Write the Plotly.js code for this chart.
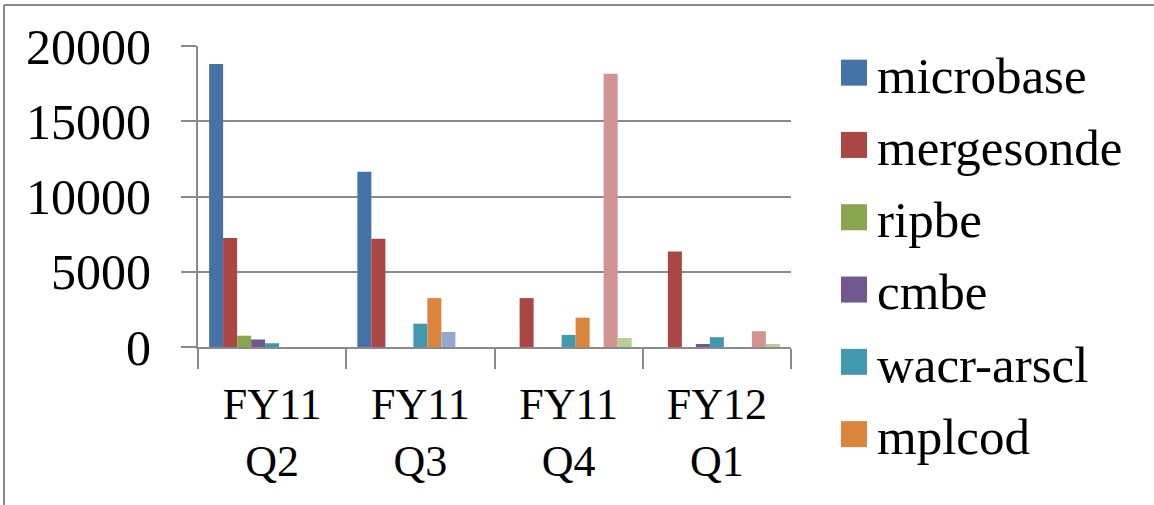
<!DOCTYPE html>
<html>
<head>
<meta charset="utf-8">
<script src="https://cdn.plot.ly/plotly-3.0.1.min.js"></script>
<style>
html,body{margin:0;padding:0;background:#fff;}
#chart{width:1154px;height:505px;}
</style>
</head>
<body>
<div id="chart"></div>
<script>
// Data
const categories = ["FY11<br>Q2", "FY11<br>Q3", "FY11<br>Q4", "FY12<br>Q1"];
const seriesNames = ["microbase", "mergesonde", "ripbe", "cmbe", "wacr-arscl", "mplcod", "Series 7", "Series 8", "Series 9"];
const microbase  = [18800, 11650, 0, 0];
const mergesonde = [7250, 7200, 3250, 6350];
const ripbe      = [750, 0, 0, 0];
const cmbe       = [500, 0, 0, 200];
const wacrArscl  = [250, 1550, 800, 650];
const mplcod     = [0, 3250, 1950, 0];
const series7    = [0, 1000, 0, 0];
const series8    = [0, 0, 18150, 1050];
const series9    = [0, 0, 600, 200];
const seriesValues = [microbase, mergesonde, ripbe, cmbe, wacrArscl, mplcod, series7, series8, series9];
const colors = ["#4572A7", "#AA4643", "#89A54E", "#71588F", "#4198AF", "#DB843D", "#93A9CF", "#D39392", "#B9CD96"];
const showInLegend = [true, true, true, true, true, true, false, false, false];

const FONT = "Liberation Serif, Times New Roman, serif";
const GRAY = "#8a8a8a";

const traces = seriesValues.map((vals, i) => ({
  type: "bar",
  name: seriesNames[i],
  x: categories,
  y: vals,
  marker: {color: colors[i], line: {width: 0}},
  showlegend: showInLegend[i],
  legendgroup: "g" + i
}));

// pixel geometry of the plot area
const W = 1154, H = 505;
const L = 198, R = 791, T = 46, B = 347;
const pw = R - L, ph = B - T;
const px = v => (v - L) / pw;
const py = v => (B - v) / ph;

const layout = {
  width: W, height: H,
  margin: {l: L, r: W - R, t: T, b: H - B, pad: 0},
  paper_bgcolor: "#ffffff",
  plot_bgcolor: "#ffffff",
  font: {family: FONT, color: "#000000", size: 48},
  barmode: "group",
  bargap: 0.15,
  bargroupgap: 0,
  showlegend: true,
  legend: {
    x: px(831), y: py(33), xanchor: "left", yanchor: "top",
    font: {family: FONT, size: 51, color: "#000"},
    tracegroupgap: 3,
    traceorder: "grouped",
    itemwidth: 36,
    maxheight: 490,
    bgcolor: "rgba(0,0,0,0)",
    borderwidth: 0
  },
  xaxis: {
    type: "category",
    tickson: "boundaries",
    ticks: "outside",
    ticklen: 20,
    tickwidth: 2,
    tickcolor: GRAY,
    showline: true,
    linecolor: GRAY,
    linewidth: 2,
    showgrid: false,
    tickfont: {family: FONT, size: 44, color: "#000"},
    ticklabelstandoff: 17
  },
  yaxis: {
    range: [0, 20000],
    tickvals: [0, 5000, 10000, 15000, 20000],
    ticktext: ["0", "5000", "10000", "15000", "20000"],
    ticks: "outside",
    ticklen: 15,
    tickwidth: 2,
    tickcolor: GRAY,
    showline: true,
    linecolor: GRAY,
    linewidth: 2,
    showgrid: true,
    gridcolor: GRAY,
    gridwidth: 2,
    zeroline: false,
    tickfont: {family: FONT, size: 50, color: "#000"},
    ticklabelstandoff: 20
  },
  shapes: [
    {type: "line", xref: "paper", yref: "paper", x0: px(4), x1: px(4), y0: py(H + 10), y1: py(5), line: {color: GRAY, width: 2}},
    {type: "line", xref: "paper", yref: "paper", x0: px(4), x1: px(W + 10), y0: py(5), y1: py(5), line: {color: GRAY, width: 2}}
  ]
};

Plotly.newPlot("chart", traces, layout, {staticPlot: true, displayModeBar: false}).then(gd => {
  // enlarge legend swatches to match the reference's big squares
  gd.querySelectorAll(".legend .legendpoints path").forEach(p => {
    p.setAttribute("d", "M13,13H-13V-13H13Z");
  });
});
</script>
</body>
</html>
